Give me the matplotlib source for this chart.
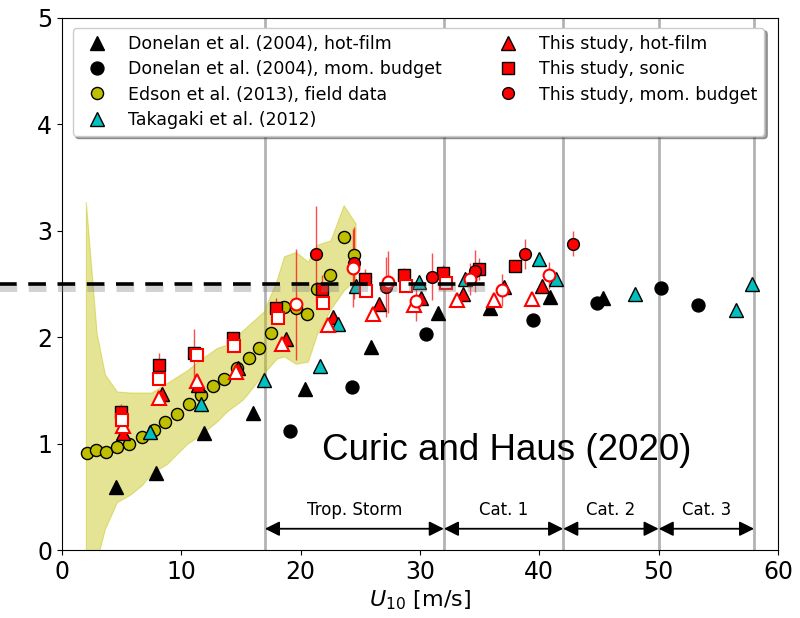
import matplotlib
matplotlib.use("Agg")
import matplotlib.pyplot as plt
from matplotlib.lines import Line2D
from matplotlib.patches import Rectangle
import matplotlib.patheffects as pe

# Donelan et al. (2004)
don_hf_u = [4.5, 7.9, 11.9, 16.0, 20.4, 25.9, 31.5, 35.9, 40.9, 45.3]
don_hf_cd = [0.59, 0.72, 1.10, 1.29, 1.51, 1.91, 2.23, 2.27, 2.38, 2.37]
don_mb_u = [19.1, 24.3, 30.5, 39.5, 44.8, 50.2, 53.3]
don_mb_cd = [1.12, 1.53, 2.03, 2.16, 2.32, 2.46, 2.30]

# Edson et al. (2013) bin means and spread
edson_u = [2.07, 2.82, 3.69, 4.64, 5.62, 6.68, 7.71, 8.63, 9.61, 10.65, 11.65, 12.63,
           13.58, 14.64, 15.65, 16.54, 17.52, 18.61, 19.59, 20.54, 21.4, 22.46, 23.66, 24.5]
edson_cd = [0.91, 0.94, 0.92, 0.97, 1.00, 1.06, 1.13, 1.20, 1.28, 1.37, 1.46, 1.54,
            1.61, 1.71, 1.80, 1.90, 2.04, 2.28, 2.27, 2.22, 2.45, 2.58, 2.94, 2.77]
band_u = [2.0, 2.9, 3.6, 4.6, 5.7, 6.7, 7.5, 8.8, 10.5, 11.6, 13.0, 13.8, 15.1, 15.5,
          16.9, 18.0, 18.6, 19.6, 20.6, 21.4, 22.5, 23.6, 24.6]
band_hi = [3.27, 2.04, 1.65, 1.49, 1.48, 1.48, 1.48, 1.57, 1.69, 1.79, 1.90, 1.93, 2.06, 2.10,
           2.24, 2.54, 2.76, 2.80, 2.71, 2.87, 2.91, 3.24, 3.07]
band_lo = [-0.5, -0.1, 0.2, 0.45, 0.52, 0.61, 0.72, 0.81, 1.00, 1.08, 1.21, 1.30, 1.41, 1.46,
           1.66, 1.80, 1.82, 1.75, 1.77, 2.04, 2.26, 2.44, 2.54]

# Takagaki et al. (2012)
tak_u = [7.4, 11.65, 16.9, 21.6, 23.1, 24.65, 29.9, 33.8, 40.0, 41.4, 48.0, 56.5, 57.8]
tak_cd = [1.11, 1.37, 1.60, 1.73, 2.12, 2.48, 2.52, 2.55, 2.73, 2.55, 2.41, 2.26, 2.50]

# This study
hf_u = [5.14, 8.4, 11.43, 14.78, 18.8, 22.74, 26.6, 30.1, 33.57, 37.0, 40.2]
hf_cd = [1.10, 1.47, 1.55, 1.71, 1.98, 2.19, 2.31, 2.37, 2.41, 2.47, 2.48]
son_u = [4.95, 8.16, 11.1, 14.36, 17.96, 21.77, 25.4, 28.62, 31.9, 34.98, 37.97]
son_cd = [1.30, 1.74, 1.85, 1.99, 2.27, 2.45, 2.55, 2.58, 2.60, 2.64, 2.67]
son_err = [0.07, 0.11, 0.23, 0.06, 0.10, 0.13, 0.09, 0.07, 0.08, 0.10, 0.05]
mb_u = [21.3, 24.5, 27.15, 31.0, 34.6, 38.8, 42.8]
mb_cd = [2.78, 2.70, 2.47, 2.57, 2.62, 2.78, 2.88]
mb_err = [0.45, 0.34, 0.28, 0.22, 0.20, 0.14, 0.12]

# This study, second set (open markers)
hf2_u = [5.08, 8.16, 11.29, 14.56, 18.47, 22.3, 26.1, 29.5, 33.1, 36.2, 39.4]
hf2_cd = [1.17, 1.43, 1.59, 1.67, 1.94, 2.11, 2.22, 2.30, 2.35, 2.35, 2.36]
son2_u = [5.0, 8.16, 11.3, 14.42, 18.13, 21.85, 25.45, 28.8, 32.2]
son2_cd = [1.22, 1.61, 1.83, 1.92, 2.18, 2.32, 2.43, 2.48, 2.51]
mb2_u = [19.6, 24.35, 27.3, 29.7, 34.2, 36.85, 40.85]
mb2_cd = [2.31, 2.65, 2.52, 2.34, 2.55, 2.44, 2.58]
mb2_err = [0.52, 0.37, 0.29, 0.19, 0.15, 0.15, 0.13]

# Saffir-Simpson categories
cat_edges = [17, 32, 42, 50, 58]
cat_names = ["Trop. Storm", "Cat. 1", "Cat. 2", "Cat. 3"]

fig = plt.figure(figsize=(8, 6.18), dpi=100)
ax = fig.add_axes([0.0775, 0.110, 0.895, 0.861])

for xe in cat_edges:
    ax.axvline(xe, color="0.7", lw=2, zorder=1)

ax.fill_between(band_u, band_lo, band_hi, color="y", alpha=0.42, edgecolor="y", lw=0.8, zorder=1.5)

ebkw = dict(fmt="none", ecolor="red", elinewidth=1, alpha=0.7, capsize=0, zorder=2)
ax.errorbar(son_u, son_cd, yerr=son_err, **ebkw)
ax.errorbar(mb_u, mb_cd, yerr=mb_err, **ebkw)
ax.errorbar(mb2_u, mb2_cd, yerr=mb2_err, **ebkw)

h1, = ax.plot(don_hf_u, don_hf_cd, "^", color="k", ms=10.5, ls="none", zorder=3,
              label="Donelan et al. (2004), hot-film")
h2, = ax.plot(don_mb_u, don_mb_cd, "o", color="k", ms=9.3, ls="none", zorder=3,
              label="Donelan et al. (2004), mom. budget")
h3, = ax.plot(edson_u, edson_cd, "o", mfc="y", mec="k", ms=8.7, ls="none", zorder=3,
              label="Edson et al. (2013), field data")
h5, = ax.plot(hf_u, hf_cd, "^", mfc="red", mec="k", ms=10.5, ls="none", zorder=4,
              label="This study, hot-film")
h6, = ax.plot(son_u, son_cd, "s", mfc="red", mec="k", ms=8, ls="none", zorder=4,
              label="This study, sonic")
h7, = ax.plot(mb_u, mb_cd, "o", mfc="red", mec="k", ms=8.5, ls="none", zorder=4,
              label="This study, mom. budget")
h4, = ax.plot(tak_u, tak_cd, "^", mfc="c", mec="k", ms=10.5, ls="none", zorder=5,
              label="Takagaki et al. (2012)")
ax.plot(hf2_u, hf2_cd, "^", mfc="white", mec="red", mew=1.5, ms=10.5, ls="none", zorder=6)
ax.plot(son2_u, son2_cd, "s", mfc="white", mec="red", mew=1.5, ms=8, ls="none", zorder=6)
ax.plot(mb2_u, mb2_cd, "o", mfc="white", mec="red", mew=1.5, ms=8.5, ls="none", zorder=6)

for a, b, name in zip(cat_edges[:-1], cat_edges[1:], cat_names):
    ax.annotate("", xy=(b, 0.2), xytext=(a, 0.2),
                arrowprops=dict(arrowstyle="<|-|>", color="k", lw=1.3,
                                mutation_scale=22, shrinkA=0, shrinkB=0))
    ax.text((a + b) / 2, 0.29, name, ha="center", va="bottom", fontsize=12)

ax.text(21.8, 0.85, "Curic and Haus (2020)", fontsize=26.5, family="Liberation Sans",
        va="baseline", ha="left", zorder=10)

ax.set_xlim(0, 60)
ax.set_ylim(0, 5)
ax.set_xticks([0, 10, 20, 30, 40, 50, 60])
ax.set_yticks([0, 1, 2, 3, 4, 5])
ax.tick_params(labelsize=17)
ax.set_xlabel("$U_{10}$ [m/s]", fontsize=16, labelpad=3)
ax.set_ylabel(r"$C_{D10}\times10^3$", fontsize=16)
ax.yaxis.set_label_coords(-0.0475, 0.5)

ax.legend(handles=[h1, h2, h3, h4, h5, h6, h7], ncol=2, loc="upper left",
          bbox_to_anchor=(0.015, 0.981), borderaxespad=0, fontsize=12.5,
          columnspacing=2.8, labelspacing=0.42, shadow=True, framealpha=1)

# the slide crops the y label; dashed reference line runs over that margin
fig.add_artist(Rectangle((0, 0), 24 / 800, 1, transform=fig.transFigure,
                         color="white", zorder=5))
ref = Line2D([-5.4, 35.8], [2.5, 2.5], transform=ax.transData, color="k", lw=2.6,
             dashes=(4.9, 3.2), zorder=6,
             path_effects=[pe.SimpleLineShadow(offset=(1, -3), shadow_color="0.5",
                                               alpha=0.35, linewidth=5), pe.Normal()])
fig.add_artist(ref)

fig.savefig("out.png", dpi=100)
